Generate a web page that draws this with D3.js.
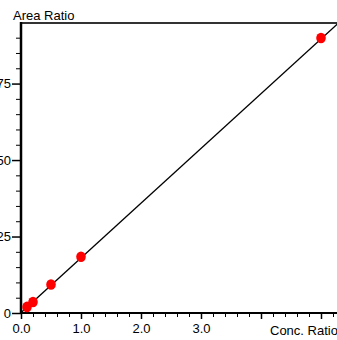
<!DOCTYPE html>
<html>
<head>
<meta charset="utf-8">
<script src="https://cdn.jsdelivr.net/npm/d3@7"></script>
<style>
  body { margin: 0; background: #fff; }
  svg { display: block; font-family: Arial, "Liberation Sans", sans-serif; }
  .tick text { font-size: 13px; fill: #000; }
</style>
</head>
<body>
<svg id="chart" width="337" height="340"></svg>
<script>
// calibration points
const concRatio = [ 0.1, 0.2, 0.5, 1.0, 5.0 ]
const areaRatio = [ 2.0, 3.6, 9.3, 18.4, 89.9 ]

// fitted line (slope / intercept)
const fit = { slope: 17.9, intercept: 0.1 }

const xMajor = [ 0, 1, 2, 3, 4, 5 ]
const xLabels = [ '0.0', '1.0', '2.0', '3.0', '', '' ]
const yMajor = [ 0, 25, 50, 75 ]

const svg = d3.select('#chart')

const x = d3.scaleLinear().domain([ 0, 5.3 ]).range([ 21, 339 ])
const y = d3.scaleLinear().domain([ 0, 94.8 ]).range([ 313, 23 ])

// minor ticks
const xMinor = d3.range( 0, 5.3, 0.2 ).filter( v => Math.abs( v - Math.round( v ) ) > 0.01 )
const yMinor = d3.range( 0, 95, 5 ).filter( v => v % 25 !== 0 )

svg.append('g')
    .attr('transform', `translate(0,${y(0)})`)
    .call( d3.axisBottom(x).tickValues(xMinor).tickSize(4).tickFormat('') )
    .call( g => g.select('.domain').remove() )
    .selectAll('line').attr('stroke', '#000').attr('stroke-width', 1)

svg.append('g')
    .attr('transform', `translate(${x(0)},0)`)
    .call( d3.axisLeft(y).tickValues(yMinor).tickSize(5).tickFormat('') )
    .call( g => g.select('.domain').remove() )
    .selectAll('line').attr('stroke', '#000').attr('stroke-width', 1)

// major ticks
svg.append('g')
    .attr('transform', `translate(0,${y(0)})`)
    .call( d3.axisBottom(x).tickValues(xMajor).tickSize(6).tickPadding(5)
        .tickFormat( (d, i) => xLabels[i] ) )
    .call( g => g.select('.domain').remove() )
    .call( g => g.selectAll('line').attr('stroke', '#000').attr('stroke-width', 1.5) )
    .call( g => g.selectAll('text').attr('font-family', 'Arial, "Liberation Sans", sans-serif') )

svg.append('g')
    .attr('transform', `translate(${x(0)},0)`)
    .call( d3.axisLeft(y).tickValues(yMajor).tickSize(9).tickPadding(1) )
    .call( g => g.select('.domain').remove() )
    .call( g => g.selectAll('line').attr('stroke', '#000').attr('stroke-width', 1.5) )
    .call( g => g.selectAll('text').attr('font-family', 'Arial, "Liberation Sans", sans-serif') )

// top frame line
svg.append('line')
    .attr('x1', x(0)).attr('x2', 337)
    .attr('y1', y(94.8)).attr('y2', y(94.8))
    .attr('stroke', '#333').attr('stroke-width', 2)

// axes
svg.append('line')
    .attr('x1', x(0)).attr('x2', 337)
    .attr('y1', y(0)).attr('y2', y(0))
    .attr('stroke', '#000').attr('stroke-width', 2)

svg.append('line')
    .attr('x1', x(0)).attr('x2', x(0))
    .attr('y1', y(94.8) - 1).attr('y2', y(0) + 1)
    .attr('stroke', '#000').attr('stroke-width', 2.5)

// regression line, clipped to plot
svg.append('clipPath').attr('id', 'plot')
    .append('rect')
    .attr('x', x(0)).attr('y', y(94.8))
    .attr('width', 337 - x(0)).attr('height', y(0) - y(94.8))

const xEnd = 5.3
svg.append('path')
    .attr('clip-path', 'url(#plot)')
    .attr('d', d3.line()( [ [ x(0), y(fit.intercept) ], [ x(xEnd), y(fit.slope * xEnd + fit.intercept) ] ] ))
    .attr('stroke', '#000').attr('stroke-width', 1.3).attr('fill', 'none')

// points
svg.append('g').selectAll('ellipse')
    .data( concRatio.map( (c, i) => [ c, areaRatio[i] ] ) )
    .join('ellipse')
    .attr('cx', d => x(d[0]))
    .attr('cy', d => y(d[1]))
    .attr('rx', 4.8).attr('ry', 5.3)
    .attr('fill', '#ff0000')

// axis titles
svg.append('text')
    .attr('x', 13).attr('y', 20)
    .attr('font-size', 13)
    .text('Area Ratio')

svg.append('text')
    .attr('x', 270).attr('y', 335)
    .attr('font-size', 13)
    .text('Conc. Ratio')
</script>
</body>
</html>
